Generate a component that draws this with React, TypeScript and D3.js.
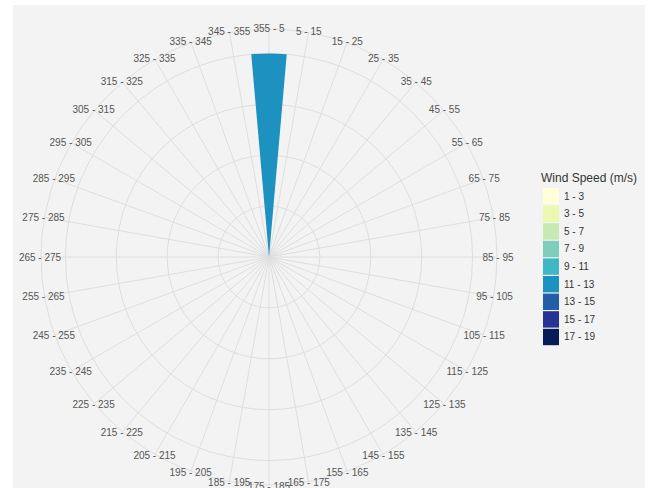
import React from "react";
import * as d3 from "d3";

const directions = [
  "355 - 5", "5 - 15", "15 - 25", "25 - 35", "35 - 45", "45 - 55", "55 - 65", "65 - 75", "75 - 85",
  "85 - 95", "95 - 105", "105 - 115", "115 - 125", "125 - 135", "135 - 145", "145 - 155", "155 - 165", "165 - 175",
  "175 - 185", "185 - 195", "195 - 205", "205 - 215", "215 - 225", "225 - 235", "235 - 245", "245 - 255", "255 - 265",
  "265 - 275", "275 - 285", "285 - 295", "295 - 305", "305 - 315", "315 - 325", "325 - 335", "335 - 345", "345 - 355",
];

const speedBins = ["1 - 3", "3 - 5", "5 - 7", "7 - 9", "9 - 11", "11 - 13", "13 - 15", "15 - 17", "17 - 19"];

// frequency (%) of the 11 - 13 m/s bin per direction; all other bins are empty
const freq11to13 = [
  100, 0, 0, 0, 0, 0, 0, 0, 0,
  0, 0, 0, 0, 0, 0, 0, 0, 0,
  0, 0, 0, 0, 0, 0, 0, 0, 0,
  0, 0, 0, 0, 0, 0, 0, 0, 0,
];

const radialTicks = [25, 50, 75, 100];
const radialMax = 112;

export default function App() {
  const W = 650, H = 488;
  const cx = 269, cy = 257;
  const outerR = 228;
  const colors = d3.schemeYlGnBu[9];

  const rows = directions.map((dir, i) => {
    const row: any = { dir };
    speedBins.forEach((b) => (row[b] = b === "11 - 13" ? freq11to13[i] : 0));
    return row;
  });
  const stacked = d3.stack<any>().keys(speedBins)(rows);

  const x = d3.scaleBand<string>().domain(directions).range([-Math.PI / 36 * 1, 2 * Math.PI - Math.PI / 36]).padding(0);
  // band starts at -5deg so that "355 - 5" is centered at north
  const xb = d3.scaleBand<string>().domain(directions).range([-(Math.PI / 36) * 2 / 2 * 1.0, 2 * Math.PI - (Math.PI / 36)]);
  const bandStart = (d: string) => -Math.PI / 36 + directions.indexOf(d) * (2 * Math.PI / 36);
  const center = (d: string) => directions.indexOf(d) * (2 * Math.PI / 36);
  const y = d3.scaleLinear().domain([0, radialMax]).range([0, outerR]);
  const arc = d3.arc<any>();

  const font = "'Liberation Sans', Arial, Helvetica, sans-serif";
  const gridColor = "#dedede";

  return (
    <svg width={W} height={H} style={{ position: "fixed", left: 0, top: 0 }} fontFamily={font}>
      <rect x={0} y={0} width={W} height={H} fill="#ffffff" />
      <rect x={13} y={5} width={632} height={H - 5} fill="#f3f3f3" />
      <g transform={`translate(${cx},${cy})`}>
        {radialTicks.map((t) => (
          <circle key={t} r={y(t)} fill="none" stroke={gridColor} strokeWidth={1} />
        ))}
        <circle r={outerR} fill="none" stroke={gridColor} strokeWidth={1} />
        {directions.map((d) => {
          const a = center(d);
          return (
            <line
              key={d}
              x1={0}
              y1={0}
              x2={outerR * Math.sin(a)}
              y2={-outerR * Math.cos(a)}
              stroke={gridColor}
              strokeWidth={1}
            />
          );
        })}
        {stacked.map((s, si) => (
          <g key={s.key} fill={colors[si]}>
            {s.map((p, i) => {
              if (p[1] - p[0] <= 0) return null;
              const d = directions[i];
              const a0 = bandStart(d);
              return (
                <path
                  key={d}
                  d={arc({
                    innerRadius: y(p[0]),
                    outerRadius: y(p[1]),
                    startAngle: a0,
                    endAngle: a0 + 2 * Math.PI / 36,
                  }) as string}
                />
              );
            })}
          </g>
        ))}
        {directions.map((d) => {
          const a = center(d);
          const r = outerR + 1;
          return (
            <text
              key={d}
              x={r * Math.sin(a)}
              y={-r * Math.cos(a)}
              textAnchor="middle"
              dominantBaseline="central"
              fontSize={10}
              fill="#555555"
            >
              {d}
            </text>
          );
        })}
      </g>
      <g transform="translate(541,0)">
        <text x={0} y={182} fontSize={12} fill="#333333">Wind Speed (m/s)</text>
        {speedBins.map((b, i) => (
          <g key={b} transform={`translate(2,${188 + i * 17.6})`}>
            <rect x={0} y={0} width={16} height={16.4} fill={colors[i]} />
            <text x={21} y={8.2} dominantBaseline="central" fontSize={10} fill="#333333">{b}</text>
          </g>
        ))}
      </g>
    </svg>
  );
}
